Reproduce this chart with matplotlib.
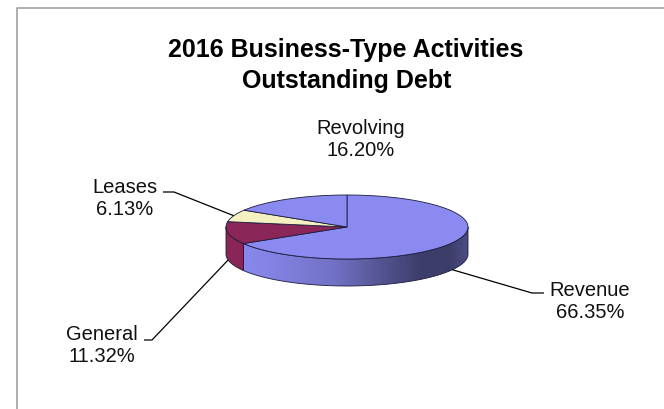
import numpy as np
import matplotlib.pyplot as plt
from matplotlib.patches import Polygon
from matplotlib.lines import Line2D

# debt shares, clockwise from 12 o'clock
names = ["Revenue", "General", "Leases", "Revolving"]
shares = [66.35, 11.32, 6.13, 16.20]
colors = ["#8A8AF0", "#8B2758", "#F4F0C0", "#8A8AF0"]

title_lines = ["2016 Business-Type Activities", "Outstanding Debt"]

# ellipse geometry of the pie, in pixels
CX, CY = 347.0, 227.0
RX, RY = 121.0, 32.0
DEPTH = 27.0

# label placement: (center x, first baseline, leader elbow, leader end)
label_layout = {
    "Revenue": (590, 296, (532, 293), (544, 293)),
    "General": (102, 340, (152, 340), (144, 340)),
    "Leases": (125, 193, (174, 192), (163, 192)),
    "Revolving": (361, 134, None, None),
}

FONT = "Liberation Sans"
EDGE = "#1c1c3c"


def ell(theta, dy=0.0):
    t = np.radians(theta)
    return CX + RX * np.sin(t), CY - RY * np.cos(t) + dy


def arc(t0, t1, dy=0.0, n=120):
    th = np.linspace(t0, t1, n)
    x, y = ell(th, dy)
    return np.column_stack([x, y])


def side_shade(u):
    # brightness across the rim, left to right
    stops_u = [0.0, 0.15, 0.45, 0.65, 0.8, 0.92, 1.0]
    stops_b = [1.0, 0.97, 0.82, 0.6, 0.45, 0.44, 0.55]
    return np.interp(u, stops_u, stops_b)


fig = plt.figure(figsize=(6.64, 4.09), dpi=100)
ax = fig.add_axes([0, 0, 1, 1])
ax.axis("off")

bounds = np.concatenate([[0], np.cumsum(shares)]) / sum(shares) * 360.0

# rim of the pie (front half only)
cols = np.linspace(0, 1, 500)
for i, c in enumerate(colors):
    lo, hi = max(bounds[i], 90.0), min(bounds[i + 1], 270.0)
    if lo >= hi:
        continue
    pts = np.vstack([arc(lo, hi), arc(hi, lo, DEPTH)])
    rim = Polygon(pts, closed=True, facecolor="none", edgecolor=EDGE, lw=0.6, zorder=3)
    ax.add_patch(rim)
    base = np.array(plt.matplotlib.colors.to_rgb(c))
    img = np.clip(side_shade(cols)[None, :, None] * base[None, None, :], 0, 1)
    im = ax.imshow(img, extent=[CX - RX, CX + RX, CY + RY + DEPTH, CY - RY],
                   aspect="auto", interpolation="bilinear", zorder=2)
    im.set_clip_path(rim)

# top face
for i, c in enumerate(colors):
    pts = np.vstack([[CX, CY], arc(bounds[i], bounds[i + 1])])
    ax.add_patch(Polygon(pts, closed=True, facecolor=c, edgecolor=EDGE,
                         lw=0.6, zorder=4))

# labels and leader lines
for i, name in enumerate(names):
    lx, ly, elbow, end = label_layout[name]
    ax.text(lx, ly, name, ha="center", va="baseline", fontsize=14.5,
            family=FONT, color="#111111", zorder=6)
    ax.text(lx, ly + 22, f"{shares[i]:.2f}%", ha="center", va="baseline",
            fontsize=14.5, family=FONT, color="#111111", zorder=6)
    if elbow is None:
        continue
    mid = (bounds[i] + bounds[i + 1]) / 2
    dy = DEPTH if 90 < mid < 270 else 0.0
    px, py = ell(mid, dy)
    ax.plot([px, elbow[0], end[0]], [py, elbow[1], end[1]], color="black",
            lw=0.9, zorder=5, solid_capstyle="butt")

# title
ax.text(346, 56.7, title_lines[0], ha="center", va="baseline", fontsize=18,
        fontweight="bold", family=FONT)
ax.text(347, 88, title_lines[1], ha="center", va="baseline", fontsize=18,
        fontweight="bold", family=FONT)

# chart area frame (left and top edges)
ax.add_line(Line2D([16.5, 16.5, 664], [409, 7.5, 7.5], color="#A0A0A0", lw=1.2))

ax.set_xlim(0, 664)
ax.set_ylim(409, 0)
fig.savefig("out.png", dpi=100)
